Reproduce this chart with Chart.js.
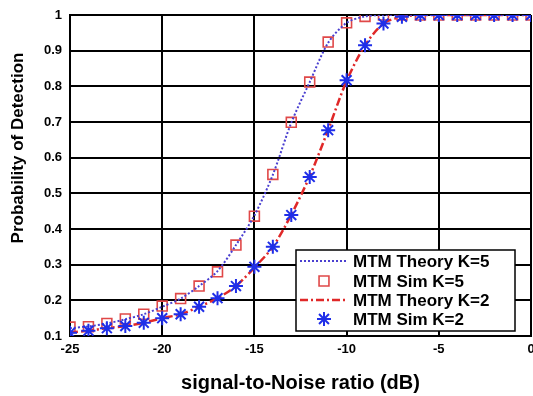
<!DOCTYPE html>
<html lang="en">
<head>
    <meta charset="UTF-8">
    <title>Probability of Detection vs SNR</title>
    <script src="https://cdn.jsdelivr.net/npm/chart.js"></script>
    <style>
        body {
            margin: 0;
            background: #ffffff;
        }
        .chart-box {
            width: 533px;
            height: 396px;
            position: relative;
        }
    </style>
</head>
<body>
    <div class="chart-box">
        <canvas id="pdChart"></canvas>
    </div>

    <script>
        // SNR grid in dB, one point per dB
        const snrDb = [-25, -24, -23, -22, -21, -20, -19, -18, -17, -16, -15, -14, -13,
                       -12, -11, -10, -9, -8, -7, -6, -5, -4, -3, -2, -1, 0];

        // MTM, K=5 tapers
        const theoryK5 = [0.122, 0.127, 0.135, 0.147, 0.161, 0.182, 0.205, 0.240, 0.282, 0.355, 0.438,
                          0.552, 0.698, 0.812, 0.922, 0.978, 0.996, 1, 1, 1, 1, 1, 1, 1, 1, 1];
        const simK5 = [0.125, 0.126, 0.135, 0.148, 0.161, 0.184, 0.205, 0.240, 0.280, 0.355, 0.436,
                       0.553, 0.699, 0.812, 0.924, 0.978, 0.996, 1, 1, 1, 1, 1, 1, 1, 1, 1];

        // MTM, K=2 tapers
        const theoryK2 = [0.110, 0.115, 0.122, 0.128, 0.137, 0.150, 0.161, 0.182, 0.206, 0.240, 0.292,
                          0.350, 0.440, 0.548, 0.678, 0.815, 0.915, 0.976, 0.995, 1, 1, 1, 1, 1, 1, 1];
        const simK2 = [0.109, 0.115, 0.122, 0.128, 0.137, 0.150, 0.161, 0.182, 0.206, 0.240, 0.294,
                       0.350, 0.439, 0.546, 0.677, 0.817, 0.915, 0.976, 0.995, 1, 1, 1, 1, 1, 1, 1];

        const xTicks = [-25, -20, -15, -10, -5, 0];
        const yTicks = [0.1, 0.2, 0.3, 0.4, 0.5, 0.6, 0.7, 0.8, 0.9, 1];

        const xTitle = 'signal-to-Noise ratio (dB)';
        const yTitle = 'Probability of Detection';

        const toPoints = (ys) => ys.map((y, i) => ({ x: snrDb[i], y: y }));

        const FAMILY = "'Liberation Sans', Arial, sans-serif";
        const boldFont = (size) => ({ family: FAMILY, size: size, weight: 'bold' });

        // y title sits a bit above the axis centre, so it is drawn by hand
        const yTitlePlugin = {
            id: 'yTitlePlugin',
            afterDraw(chart) {
                const ctx = chart.ctx;
                ctx.save();
                ctx.translate(18, 148);
                ctx.rotate(-Math.PI / 2);
                ctx.fillStyle = '#000000';
                ctx.font = 'bold 17px ' + FAMILY;
                ctx.textAlign = 'center';
                ctx.textBaseline = 'middle';
                ctx.fillText(yTitle, 0, 0);
                ctx.restore();
            }
        };

        // legend drawn inside the plot, lower right, framed like a MATLAB legend
        const boxLegend = {
            id: 'boxLegend',
            afterDraw(chart) {
                const ctx = chart.ctx;
                const x0 = 296, y0 = 250, w = 219, h = 81;
                const rows = [261, 281, 300, 319];
                ctx.save();
                ctx.fillStyle = '#ffffff';
                ctx.fillRect(x0, y0, w, h);
                ctx.strokeStyle = '#000000';
                ctx.lineWidth = 1.5;
                ctx.strokeRect(x0, y0, w, h);

                chart.data.datasets.forEach((ds, i) => {
                    const y = rows[i];
                    if (ds.showLine !== false) {
                        ctx.beginPath();
                        ctx.setLineDash(ds.borderDash || []);
                        ctx.strokeStyle = ds.borderColor;
                        ctx.lineWidth = ds.borderWidth;
                        ctx.moveTo(300, y);
                        ctx.lineTo(348, y);
                        ctx.stroke();
                        ctx.setLineDash([]);
                    } else {
                        ctx.fillStyle = ds.pointBackgroundColor;
                        ctx.strokeStyle = ds.pointBorderColor;
                        ctx.lineWidth = ds.pointBorderWidth;
                        Chart.helpers.drawPoint(ctx, {
                            pointStyle: ds.pointStyle,
                            radius: ds.pointRadius,
                            rotation: 0,
                            borderWidth: ds.pointBorderWidth
                        }, 324, y);
                    }
                    ctx.fillStyle = '#000000';
                    ctx.font = 'bold 17px ' + FAMILY;
                    ctx.textAlign = 'left';
                    ctx.textBaseline = 'middle';
                    ctx.fillText(ds.label, 353, y + 1);
                });
                ctx.restore();
            }
        };

        new Chart(document.getElementById('pdChart'), {
            type: 'line',
            data: {
                datasets: [
                    {
                        label: 'MTM Theory K=5',
                        data: toPoints(theoryK5),
                        borderColor: '#4a3fd0',
                        borderWidth: 2,
                        borderDash: [2, 2],
                        pointRadius: 0,
                        tension: 0.3,
                        order: 1
                    },
                    {
                        label: 'MTM Sim K=5',
                        data: toPoints(simK5),
                        showLine: false,
                        pointStyle: 'rect',
                        pointRadius: 7,
                        pointBorderWidth: 1.6,
                        pointBorderColor: '#e04848',
                        pointBackgroundColor: 'rgba(0,0,0,0)',
                        order: 3
                    },
                    {
                        label: 'MTM Theory K=2',
                        data: toPoints(theoryK2),
                        borderColor: '#e02828',
                        borderWidth: 2.5,
                        borderDash: [8, 3, 2, 3],
                        pointRadius: 0,
                        tension: 0.3,
                        order: 2
                    },
                    {
                        label: 'MTM Sim K=2',
                        data: toPoints(simK2),
                        showLine: false,
                        pointStyle: 'star',
                        pointRadius: 7,
                        pointBorderWidth: 2,
                        pointBorderColor: '#1f2ee8',
                        pointBackgroundColor: '#1f2ee8',
                        order: 0
                    }
                ]
            },
            options: {
                responsive: true,
                maintainAspectRatio: false,
                animation: false,
                layout: {
                    autoPadding: false,
                    padding: { top: 15, right: 2, left: 0, bottom: 0 }
                },
                plugins: {
                    legend: { display: false },
                    tooltip: { enabled: false }
                },
                scales: {
                    x: {
                        type: 'linear',
                        min: -25,
                        max: 0,
                        afterBuildTicks(scale) {
                            scale.ticks = xTicks.map(v => ({ value: v }));
                        },
                        afterFit(scale) {
                            scale.height = 60;
                            scale.paddingLeft = 0;
                            scale.paddingRight = 0;
                        },
                        ticks: {
                            color: '#000000',
                            font: boldFont(13),
                            padding: 6,
                            maxRotation: 0
                        },
                        grid: {
                            color: '#000000',
                            lineWidth: 2,
                            drawTicks: false
                        },
                        border: { color: '#000000', width: 2 },
                        title: {
                            display: true,
                            text: xTitle,
                            color: '#000000',
                            font: boldFont(20),
                            padding: { top: 0, bottom: 1 }
                        }
                    },
                    y: {
                        min: 0.1,
                        max: 1,
                        afterBuildTicks(scale) {
                            scale.ticks = yTicks.map(v => ({ value: v }));
                        },
                        afterFit(scale) {
                            scale.width = 70;
                            scale.paddingTop = 0;
                            scale.paddingBottom = 0;
                        },
                        ticks: {
                            color: '#000000',
                            font: boldFont(13),
                            padding: 8,
                            callback: (v) => String(Math.round(v * 10) / 10)
                        },
                        grid: {
                            color: '#000000',
                            lineWidth: 2,
                            drawTicks: false
                        },
                        border: { color: '#000000', width: 2 }
                    }
                }
            },
            plugins: [boxLegend, yTitlePlugin]
        });
    </script>
</body>
</html>
